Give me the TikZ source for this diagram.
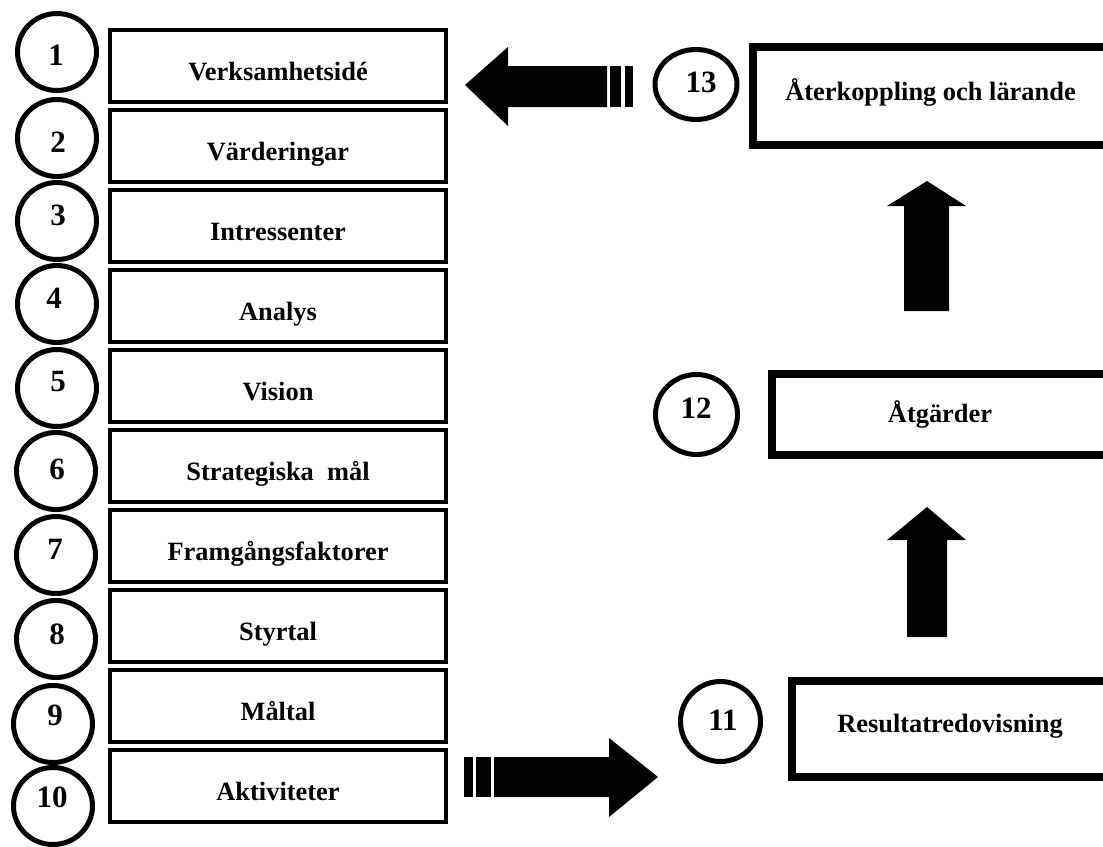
\documentclass[tikz,border=0pt]{standalone}
\usepackage{fontspec}
\setmainfont{Liberation Serif}
\usetikzlibrary{shapes.geometric}
\newcommand\lblfont{\fontsize{26.4}{30}\selectfont\bfseries}
\newcommand\nmfont{\fontsize{31}{36}\selectfont\bfseries}
\begin{document}
\begin{tikzpicture}[x=1pt,y=-1pt,
  stepbox/.style={draw, rectangle, line width=4pt, minimum width=336pt,
    minimum height=72pt, inner sep=0pt, font=\lblfont,
    text height=28pt, text depth=0pt},
  ring/.style={draw, ellipse, line width=5pt, minimum width=79pt,
    minimum height=77pt, inner sep=0pt},
  numtxt/.style={anchor=base, font=\nmfont, inner sep=0pt},
  bigbox/.style={draw, rectangle, line width=8.5pt, inner sep=0pt,
    font=\lblfont, text depth=0pt},
  blockarrow/.style={fill=black, draw=none}]
\useasboundingbox (0,0) rectangle (1103,846);
\clip (0,0) rectangle (1103,846);

% left column: the ten steps
\foreach \i/\t in {1/Verksamhetsidé, 2/Värderingar, 3/Intressenter,
    4/Analys, 5/Vision, 6/Strategiska\ \ mål, 7/Framgångsfaktorer,
    8/Styrtal, 9/Måltal, 10/Aktiviteter}
  \node[stepbox] (b\i) at (278,{66+80*(\i-1)}) {\t};

% numbered rings beside the steps
\foreach \i/\cx/\cy/\tx/\ty in {1/57/52/56/65, 2/57/138/58/152, 3/57/221/58/225,
    4/57/304/54/308, 5/57/388/58/391, 6/56/471/57/479, 7/56/555/55/559,
    8/56/639/57/644, 9/53/724/55/725, 10/53/806/52/807} {
  \node[ring] (c\i) at (\cx,\cy) {};
  \node[numtxt] (t\i) at (\tx,\ty) {\i};
}

% right column
\node[ring, minimum width=82pt, minimum height=70pt] (c13) at (696,84.5) {};
\node[numtxt] (t13) at (701,92) {13};
\node[bigbox, minimum width=355pt, minimum height=98pt, text height=8pt]
  (b13) at (930.5,96) {Återkoppling och lärande};

\node[ring, minimum width=82pt, minimum height=80pt] (c12) at (696.5,414.5) {};
\node[numtxt] (t12) at (696,418) {12};
\node[bigbox, minimum width=336pt, minimum height=81pt, text height=15pt]
  (b12) at (940,414.5) {Åtgärder};

\node[ring, minimum width=80pt, minimum height=80pt] (c11) at (720.5,721.5) {};
\node[numtxt] (t11) at (723,730) {11};
\node[bigbox, minimum width=316pt, minimum height=96pt, text height=6pt]
  (b11) at (950,729) {Resultatredovisning};

% feedback arrow pointing back to the first step
\fill[blockarrow] (465,85) -- (508,47) -- (508,66) -- (607,66) -- (607,107)
  -- (508,107) -- (508,126) -- cycle;
\fill[blockarrow] (610,66) rectangle (621,107);
\fill[blockarrow] (625,66) rectangle (633,107);

% arrow from the activities to the results
\fill[blockarrow] (464,757) rectangle (473,797);
\fill[blockarrow] (476,757) rectangle (491,797);
\fill[blockarrow] (494,757) -- (609,757) -- (609,738) -- (658,777)
  -- (609,817) -- (609,797) -- (494,797) -- cycle;

% upward arrows between the right-hand boxes
\fill[blockarrow] (927,181) -- (966,206) -- (949,206) -- (949,311)
  -- (904,311) -- (904,206) -- (887,206) -- cycle;
\fill[blockarrow] (927,507) -- (966,540) -- (947,540) -- (947,637)
  -- (907,637) -- (907,540) -- (887,540) -- cycle;
\end{tikzpicture}
\end{document}
